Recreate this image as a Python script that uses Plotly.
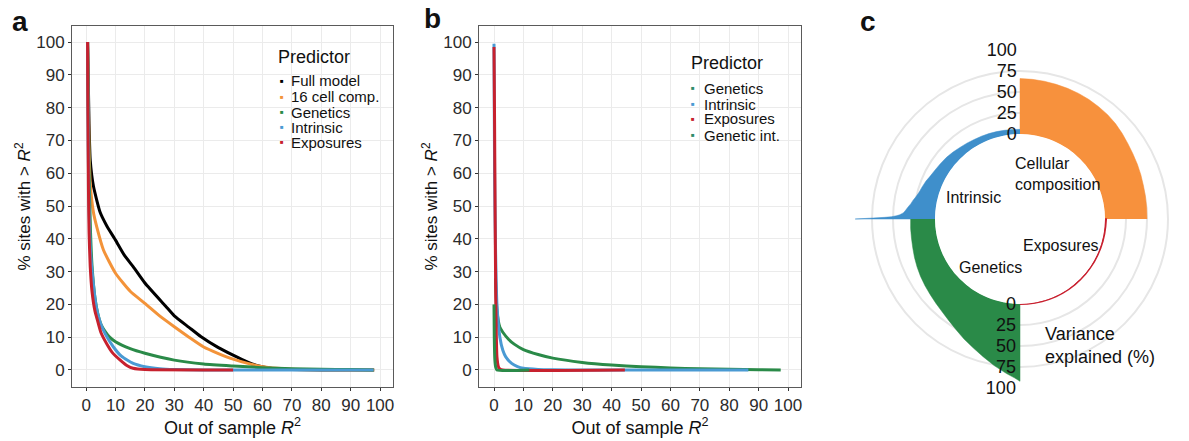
import plotly.graph_objects as go

FONT = "Liberation Sans, Arial, sans-serif"
W, H = 1189, 441

# ---------------- Panel a data ----------------
a_full_x = [0.5, 0.8, 1.0, 1.4, 2.5, 4.8, 7, 10, 13, 16, 20, 27, 30, 35, 39, 45, 50, 55, 58, 62, 65, 70, 80, 90, 98]
a_full_y = [100, 85, 75, 64, 56, 48, 44, 39.6, 35, 31.5, 26.5, 19.5, 16.5, 13, 10.2, 6.8, 4.5, 2.4, 1.4, 0.6, 0.3, 0.1, 0, 0, 0]
a_cell_x = [0.5, 0.8, 1.0, 1.4, 2.5, 3.6, 5.9, 10, 15, 20, 25, 30, 35, 40, 45, 50, 55, 60, 65, 70, 80, 98]
a_cell_y = [100, 80, 68, 57, 48, 43.7, 36.6, 29.5, 24, 20.3, 16.5, 13.2, 10, 7, 5, 3.3, 2, 1, 0.5, 0.2, 0.05, 0]
a_gen_x = [0.5, 0.8, 1, 1.5, 2, 3, 4, 5, 6.5, 8, 10, 15, 20, 30, 40, 50, 60, 70, 80, 90, 97.8]
a_gen_y = [100, 75, 60, 42, 32, 22, 17, 14, 11.7, 10, 8.6, 6.5, 5.1, 3, 1.8, 1.2, 0.7, 0.4, 0.2, 0.1, 0]
a_int_x = [0.5, 0.7, 1, 1.5, 2.5, 3.5, 4.8, 6.5, 9.3, 12, 16, 20, 25, 30, 40, 97.8]
a_int_y = [100, 70, 50, 36, 26, 19, 14.5, 11, 7, 4.2, 2, 1, 0.4, 0.15, 0, 0]
a_exp_x = [0.5, 0.6, 0.8, 1.0, 1.4, 2, 3, 3.6, 5, 7, 9, 11.6, 14, 16, 20, 50]
a_exp_y = [100, 80, 55, 42, 31.5, 24, 18, 16, 11.5, 8, 5.2, 3, 1.3, 0.5, 0.1, 0]
a_names = ["Full model", "16 cell comp.", "Genetics", "Intrinsic", "Exposures"]

# ---------------- Panel b data ----------------
b_gen_x = [0.5, 1, 2, 3, 5, 7, 10, 15, 20, 30, 40, 50, 60, 70, 80, 90, 97.5]
b_gen_y = [28, 18, 13, 11.5, 9.3, 7.8, 6.2, 4.7, 3.6, 2.3, 1.5, 1.0, 0.6, 0.35, 0.2, 0.08, 0]
b_int_x = [0, 0.2, 0.5, 1, 2, 3, 4, 6, 8, 10, 15, 20, 30, 86.5]
b_int_y = [99.5, 60, 38, 20, 10, 6, 4, 2, 1, 0.5, 0.15, 0.05, 0, 0]
b_exp_x = [0, 0.2, 0.4, 0.6, 0.8, 1.0, 1.5, 2, 3, 44.5]
b_exp_y = [98.5, 75, 45, 22, 10, 4, 1, 0.3, 0, 0]
b_gint_x = [0, 0.1, 0.3, 0.6, 1, 12]
b_gint_y = [20, 10, 3, 0.8, 0, 0]
b_names = ["Genetics", "Intrinsic", "Exposures", "Genetic int."]

ticks10 = [0, 10, 20, 30, 40, 50, 60, 70, 80, 90, 100]

# ---------------- Panel c data (angle in degrees, value = % variance explained) ----------------
c_cell_theta = [0, 5, 10, 15, 20, 25, 30, 35, 40, 45, 50, 55, 60, 65, 70, 75, 80, 85, 90]
c_cell_r = [50, 50.2, 50.5, 51, 52, 53, 54, 55.5, 57.5, 59.5, 61, 62, 63, 63.8, 64.3, 64.8, 65.3, 65.7, 66]
c_int_theta = [90, 95, 100, 105, 110, 115, 120, 125, 130, 135, 140, 145, 150, 155, 158, 162, 165, 168, 170, 172, 174, 176, 177, 178, 178.5, 179, 179.3, 179.7, 180]
c_int_r = [5.5, 5.7, 6, 6.5, 7, 7.5, 8, 9, 10, 11.5, 13, 14.2, 15.5, 17.5, 19.5, 21.5, 23, 25.5, 28, 30, 33, 36, 38, 42, 46, 52, 60, 78, 95]
c_gen_theta = [180, 185, 190, 195, 200, 205, 210, 215, 220, 225, 230, 235, 240, 245, 250, 255, 260, 265, 268, 270]
c_gen_r = [29, 29.5, 30, 31, 32.5, 34, 35.5, 37, 38.5, 40.5, 43, 46.5, 51, 56.5, 62, 68.5, 76, 83.5, 88, 92]
c_exp_theta = [270, 275, 280, 285, 290, 295, 300, 305, 310, 315, 320, 325, 330, 335, 340, 345, 350, 355, 360]
c_exp_r = [0.4, 0.5, 0.5, 0.6, 0.6, 0.6, 0.7, 0.7, 0.7, 0.8, 0.8, 0.8, 0.9, 0.9, 1.0, 1.0, 1.1, 1.2, 1.5]
c_radial_ticks = [0, 25, 50, 75, 100]

BLACK = "#000000"
ORANGE = "#F39339"
GREEN = "#2A8A48"
BLUE = "#4A9AD3"
RED = "#C7212E"
TEAL = "#2E8B6A"

a_colors = [BLACK, ORANGE, GREEN, BLUE, RED]
b_colors = [TEAL, BLUE, RED, TEAL]

fig = go.Figure()


def curve(x, y, color, xa, ya):
    fig.add_trace(go.Scatter(x=x, y=y, mode="lines",
                             line=dict(color=color, width=3, shape="spline", smoothing=0.5),
                             showlegend=False, hoverinfo="skip", xaxis=xa, yaxis=ya))


# panel a
curve(a_full_x, a_full_y, BLACK, "x", "y")
curve(a_cell_x, a_cell_y, ORANGE, "x", "y")
curve(a_gen_x, a_gen_y, GREEN, "x", "y")
curve(a_int_x, a_int_y, BLUE, "x", "y")
curve(a_exp_x, a_exp_y, RED, "x", "y")

# panel b
curve(b_gen_x, b_gen_y, GREEN, "x2", "y2")
curve(b_int_x, b_int_y, BLUE, "x2", "y2")
curve(b_exp_x, b_exp_y, RED, "x2", "y2")
curve(b_gint_x, b_gint_y, GREEN, "x2", "y2")


# panel c
def wedge(theta, r, color, lw=0.5):
    th = list(theta) + list(theta)[::-1]
    rr = list(r) + [0] * len(theta)
    fig.add_trace(go.Scatterpolar(theta=th, r=rr, mode="lines", fill="toself", fillcolor=color,
                                  line=dict(color=color, width=lw), showlegend=False,
                                  hoverinfo="skip", subplot="polar"))


wedge(c_cell_theta, c_cell_r, "#F7913D")
wedge(c_int_theta, c_int_r, "#3F8FCB")
wedge(c_gen_theta, c_gen_r, "#2A8A48")
wedge(c_exp_theta, c_exp_r, "#C8202F", lw=1.5)
fig.add_trace(go.Scatterpolar(r=[0], theta=[0], mode="markers", marker=dict(opacity=0),
                              showlegend=False, hoverinfo="skip", subplot="polar2"))

axis_common = dict(tickvals=ticks10, ticks="outside", ticklen=3, tickcolor="#333333",
                   showgrid=True, gridcolor="#EBEBEB", gridwidth=1.2, zeroline=False,
                   showline=True, linecolor="#5a5a5a", linewidth=1, mirror=True,
                   tickangle=0, tickfont=dict(family=FONT, size=17, color="#2b2b2b"))
xtitle = dict(text="Out of sample <i>R</i><sup>2</sup>", font=dict(family=FONT, size=18, color="#111"), standoff=0)
ytitle = dict(text="% sites with &gt; <i>R</i><sup>2</sup>", font=dict(family=FONT, size=17, color="#111"), standoff=1)

dom_y = [1 - 387 / H, 1 - 26 / H]
polar_dom = dict(x=[851 / W, 1.0], y=[1 - 388 / H, 1 - 50 / H])
rad_font = dict(family=FONT, size=18, color="#111")
fig.update_layout(
    width=W, height=H, margin=dict(l=0, r=0, t=0, b=0),
    paper_bgcolor="white", plot_bgcolor="white", showlegend=False,
    font=dict(family=FONT, color="#111"),
    xaxis=dict(domain=[72 / W, 393 / W], range=[-4.8, 104.4], title=xtitle, anchor="y", **axis_common),
    yaxis=dict(domain=dom_y, range=[-5.2, 104.9], title=ytitle, anchor="x", **axis_common),
    xaxis2=dict(domain=[479 / W, 801 / W], range=[-5.1, 104.4], title=xtitle, anchor="y2", **axis_common),
    yaxis2=dict(domain=dom_y, range=[-5.2, 104.9], title=ytitle, anchor="x2", **axis_common),
    polar=dict(domain=polar_dom, hole=0.503, bgcolor="rgba(0,0,0,0)",
               radialaxis=dict(range=[0, 100], tickvals=c_radial_ticks, angle=90, side="counterclockwise",
                               showline=False, ticks="", ticklen=0, gridcolor="#E6E6E6", gridwidth=2.2,
                               tickangle=90, tickfont=rad_font),
               angularaxis=dict(showgrid=False, showticklabels=False, showline=False, ticks="",
                                rotation=0, direction="counterclockwise")),
    polar2=dict(domain=polar_dom, hole=0.503, bgcolor="rgba(0,0,0,0)",
                radialaxis=dict(range=[0, 100], tickvals=c_radial_ticks, angle=270, side="clockwise",
                                showline=False, ticks="", ticklen=0, showgrid=False, tickangle=-90,
                                tickfont=rad_font),
                angularaxis=dict(showgrid=False, showticklabels=False, showline=False, ticks="")),
)

ann = []


def label(text, px, py, size=16, xanchor="center", bold=False, align="center", color="#111"):
    ann.append(dict(text=f"<b>{text}</b>" if bold else text, x=px / W, y=1 - py / H, xref="paper", yref="paper",
                    showarrow=False, xanchor=xanchor, yanchor="middle", align=align,
                    font=dict(family=FONT, size=size, color=color)))


def legend_block(title, names, colors, tx, ty, dot_x, text_x, ys):
    label(title, tx, ty, size=18, xanchor="left")
    for n, c, yy in zip(names, colors, ys):
        label("■", dot_x, yy, size=6, color=c)
        label(n, text_x, yy, size=15, xanchor="left")


legend_block("Predictor", a_names, a_colors, 276, 57, 282, 289, [81, 97, 112, 127, 142])
legend_block("Predictor", b_names, b_colors, 689, 63, 693, 702, [88, 104, 119, 135])

label("a", 20, 21, size=28, bold=True)
label("b", 432, 19, size=28, bold=True)
label("c", 868, 21, size=28, bold=True)
label("Cellular<br>composition", 1013, 174, size=16, xanchor="left", align="left")
label("Intrinsic", 973, 197, size=16)
label("Exposures", 1061, 245, size=16)
label("Genetics", 990, 267, size=16)
label("Variance<br>explained (%)", 1043, 345, size=18, xanchor="left", align="left")
fig.update_layout(annotations=ann)

fig.write_html("out.html", config={"displayModeBar": False},
               post_script="document.body.style.margin='0px';")
